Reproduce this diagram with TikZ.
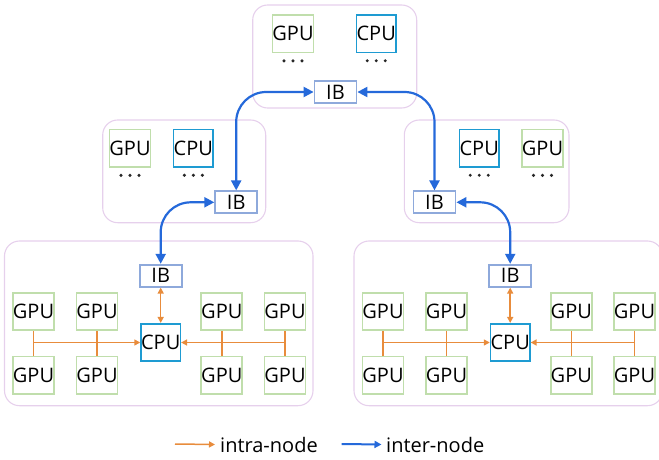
\documentclass[tikz,border=0pt]{standalone}
\usepackage{fontspec}
\setmainfont{Open Sans}
\usetikzlibrary{arrows.meta}
\definecolor{gpuc}{RGB}{192,222,172}
\definecolor{cpuc}{RGB}{30,155,210}
\definecolor{ibc}{RGB}{142,169,219}
\definecolor{boxc}{RGB}{230,208,236}
\definecolor{orc}{RGB}{232,140,60}
\definecolor{blc}{RGB}{37,105,218}
\definecolor{dotc}{RGB}{40,40,40}
\begin{document}
\begin{tikzpicture}[x=1pt,y=-1pt,
  every node/.style={font=\fontsize{20}{22}\selectfont, inner sep=0pt, text=black},
  gpu/.style={draw=gpuc, line width=1.8pt, minimum width=37.5pt, minimum height=37.5pt},
  cpu/.style={draw=cpuc, line width=1.6pt, minimum width=37.5pt, minimum height=37.5pt},
  ib/.style={draw=ibc, line width=1.8pt, minimum width=42pt, minimum height=22pt},
  container/.style={draw=boxc, line width=1.1pt, rounded corners=15pt},
  intra/.style={draw=orc, line width=1.5pt},
  otip/.style={arrows={-Triangle[length=6pt,width=6pt]}},
  obtip/.style={arrows={Triangle[length=6pt,width=6pt]-Triangle[length=6pt,width=6pt]}},
  inter/.style={draw=blc, line width=2.2pt, rounded corners=30pt,
    arrows={Triangle[length=10pt,width=10pt]-Triangle[length=10pt,width=10pt]}},
  dotrow/.style={fill=dotc},
]
\useasboundingbox (0,0) rectangle (659,460);

% top node
\draw[container] (252.7,5) rectangle (416.7,108);
\node[gpu] (tg) at (293,33.8) {GPU};
\node[cpu] (tc) at (376.2,33.8) {CPU};
\node[ib] (tib) at (335.5,92) {IB};

% middle left node
\draw[container] (102.7,120) rectangle (265.7,222.7);
\node[gpu] (mlg) at (130,148.3) {GPU};
\node[cpu] (mlc) at (193.3,148.3) {CPU};
\node[ib] (mlib) at (236.2,202.3) {IB};

% middle right node
\draw[container] (404.3,120) rectangle (569,222.7);
\node[cpu] (mrc) at (479.2,148.3) {CPU};
\node[gpu] (mrg) at (542.5,148.3) {GPU};
\node[ib] (mrib) at (434.5,202.3) {IB};

% dots
\foreach \n in {tg,tc,mlg,mlc,mrc,mrg}{
  \foreach \d in {-9,0,9}
    \fill[dotrow] ([xshift=\d pt, yshift=-7.4pt]\n.south) circle (1.7pt);
}

% bottom nodes
\foreach \p/\dx in {L/0,R/349.5}{
\begin{scope}[xshift=\dx pt]
  \draw[container] (4.5,241) rectangle (313,405.7);
  \node[ib] (\p ib) at (160.7,275.7) {IB};
  \node[cpu] (\p cpu) at (160.7,342.5) {CPU};
  \node[gpu] (\p g1) at (33.5,311.5) {GPU};
  \node[gpu] (\p g2) at (97,311.5) {GPU};
  \node[gpu] (\p g3) at (221.8,311.5) {GPU};
  \node[gpu] (\p g4) at (285,311.5) {GPU};
  \node[gpu] (\p g5) at (33.5,375.2) {GPU};
  \node[gpu] (\p g6) at (97,375.2) {GPU};
  \node[gpu] (\p g7) at (221.8,375.2) {GPU};
  \node[gpu] (\p g8) at (285,375.2) {GPU};
  \draw[intra,obtip] (\p ib.south) -- (\p cpu.north);
  \draw[intra] (\p g1.south) -- (\p g5.north);
  \draw[intra] (\p g2.south) -- (\p g6.north);
  \draw[intra] (\p g3.south) -- (\p g7.north);
  \draw[intra] (\p g4.south) -- (\p g8.north);
  \draw[intra,otip] (\p g1.south |- \p cpu.west) -- (\p cpu.west);
  \draw[intra,otip] (\p g4.south |- \p cpu.east) -- (\p cpu.east);
\end{scope}
}

% inter-node links
\draw[inter] (tib.west) -| (mlib.north);
\draw[inter] (tib.east) -| (mrib.north);
\draw[inter] (mlib.west) -| (Lib.north);
\draw[inter] (mrib.east) -| (Rib.north);

% legend
\node[anchor=west] (lg1) at (220,444.5) {intra-node};
\node[anchor=west] (lg2) at (386,444.5) {inter-node};
\coordinate (ls1) at (175,444);
\coordinate (ls2) at (341.7,444);
\draw[intra,otip] (ls1) -- ([xshift=-5pt]lg1.west);
\draw[draw=blc,line width=2pt,-{Triangle[length=7pt,width=7pt]}] (ls2) -- ([xshift=-4.5pt]lg2.west);
\end{tikzpicture}
\end{document}
